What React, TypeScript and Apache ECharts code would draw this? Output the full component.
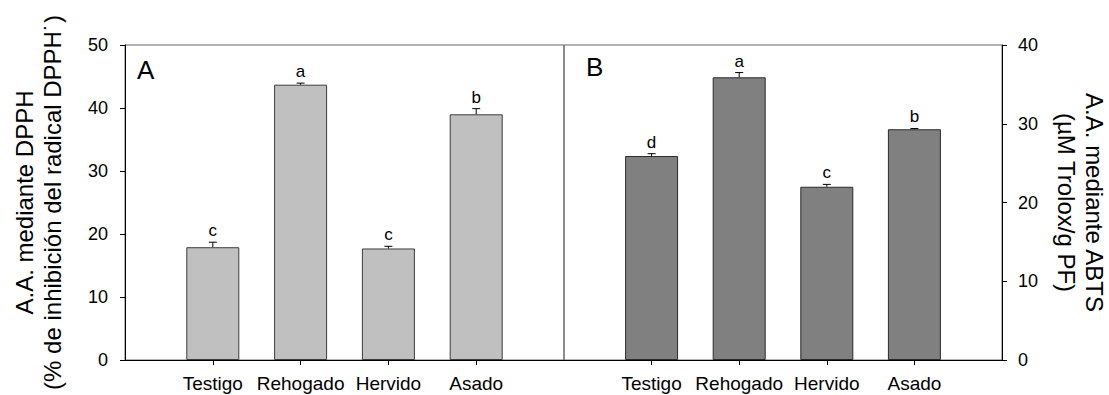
import React, { useEffect, useRef } from "react";
import * as echarts from "echarts";

const categories = ["Testigo", "Rehogado", "Hervido", "Asado"];
const valuesA = [17.9, 43.7, 17.7, 39.0];
const errorsA = [0.8, 0.25, 0.35, 0.9];
const lettersA = ["c", "a", "c", "b"];
const valuesB = [25.9, 35.9, 22.0, 29.3];
const errorsB = [0.3, 0.6, 0.3, 0.1];
const lettersB = ["d", "a", "c", "b"];
const ticksA = [0, 10, 20, 30, 40, 50];
const ticksB = [0, 10, 20, 30, 40];

const FONT = "'Liberation Sans', Arial, sans-serif";

const padded = ["", ...categories, ""];

function errSeries(gridIdx: number, values: number[], errors: number[], letters: string[]) {
  return {
    type: "custom",
    xAxisIndex: gridIdx,
    yAxisIndex: gridIdx,
    data: values.map((v, i) => [i + 1, v, errors[i]]),
    encode: { x: 0, y: 1 },
    z: 5,
    renderItem: (params: any, api: any) => {
      const x = api.value(0);
      const v = api.value(1);
      const e = api.value(2);
      const base = api.coord([x, v]);
      const top = api.coord([x, v + e]);
      const letter = letters[params.dataIndex];
      return {
        type: "group",
        children: [
          {
            type: "line",
            shape: { x1: base[0], y1: base[1], x2: top[0], y2: top[1] },
            style: { stroke: "#000", lineWidth: 1 },
          },
          {
            type: "line",
            shape: { x1: top[0] - 4, y1: top[1], x2: top[0] + 4, y2: top[1] },
            style: { stroke: "#000", lineWidth: 1 },
          },
          {
            type: "text",
            x: top[0],
            y: top[1] - 3,
            style: {
              text: letter,
              fill: "#000",
              fontSize: 17,
              fontFamily: FONT,
              align: "center",
              verticalAlign: "bottom",
              textAlign: "center",
              textVerticalAlign: "bottom",
            },
          },
        ],
      };
    },
  };
}

export default function App() {
  const ref = useRef<HTMLDivElement>(null);
  useEffect(() => {
    if (!ref.current) return;
    const chart = echarts.init(ref.current, undefined, { renderer: "svg" });
    const xAxisBase = (gridIndex: number) => ({
      type: "category",
      gridIndex,
      data: padded,
      boundaryGap: false,
      axisLine: { lineStyle: { color: "#000", width: 1 } },
      axisTick: {
        length: 5,
        lineStyle: { color: "#000" },
        interval: (idx: number) => idx > 0 && idx < padded.length - 1,
      },
      axisLabel: { interval: 0, color: "#000", fontSize: 19, fontFamily: FONT, margin: 14 },
      splitLine: { show: false },
    });
    chart.setOption({
      animation: false,
      backgroundColor: "#fff",
      grid: [
        { left: 125, top: 45, width: 439, height: 315, show: true, borderColor: "#666", borderWidth: 1 },
        { left: 564, top: 45, width: 439, height: 315, show: true, borderColor: "#666", borderWidth: 1 },
      ],
      xAxis: [xAxisBase(0), xAxisBase(1)],
      yAxis: [
        {
          type: "value",
          gridIndex: 0,
          position: "left",
          min: ticksA[0],
          max: ticksA[ticksA.length - 1],
          interval: 10,
          axisLine: { show: true, lineStyle: { color: "#000" } },
          axisTick: { show: true, length: 5, lineStyle: { color: "#000" } },
          axisLabel: { color: "#000", fontSize: 18, fontFamily: FONT, margin: 17 },
          splitLine: { show: false },
          name: "A.A. mediante DPPH\n(% de inhibición del radical DPPH˙)",
          nameLocation: "middle",
          nameRotate: 90,
          nameGap: 59,
          nameTextStyle: { color: "#000", fontSize: 24, lineHeight: 28, fontFamily: FONT },
        },
        {
          type: "value",
          gridIndex: 1,
          position: "right",
          min: ticksB[0],
          max: ticksB[ticksB.length - 1],
          interval: 10,
          axisLine: { show: true, lineStyle: { color: "#000" } },
          axisTick: { show: true, length: 5, lineStyle: { color: "#000" } },
          axisLabel: { color: "#000", fontSize: 18, fontFamily: FONT, margin: 16 },
          splitLine: { show: false },
          name: "A.A. mediante ABTS\n(µM Trolox/g PF)",
          nameLocation: "middle",
          nameRotate: -90,
          nameGap: 50,
          nameTextStyle: { color: "#000", fontSize: 24, lineHeight: 28, fontFamily: FONT },
        },
      ],
      graphic: [
        { type: "text", left: 137, top: 57, style: { text: "A", fontSize: 26, fontFamily: FONT, fill: "#000" } },
        { type: "text", left: 586, top: 54, style: { text: "B", fontSize: 26, fontFamily: FONT, fill: "#000" } },
      ],
      series: [
        {
          type: "bar",
          xAxisIndex: 0,
          yAxisIndex: 0,
          data: ["-", ...valuesA, "-"],
          barWidth: 53,
          itemStyle: { color: "#c0c0c0", borderColor: "#3c3c3c", borderWidth: 1 },
        },
        {
          type: "bar",
          xAxisIndex: 1,
          yAxisIndex: 1,
          data: ["-", ...valuesB, "-"],
          barWidth: 53,
          itemStyle: { color: "#808080", borderColor: "#2a2a2a", borderWidth: 1 },
        },
        errSeries(0, valuesA, errorsA, lettersA),
        errSeries(1, valuesB, errorsB, lettersB),
      ],
    });
    return () => chart.dispose();
  }, []);
  return (
    <div
      ref={ref}
      style={{ position: "fixed", left: 0, top: 0, width: 1109, height: 395 }}
    />
  );
}
